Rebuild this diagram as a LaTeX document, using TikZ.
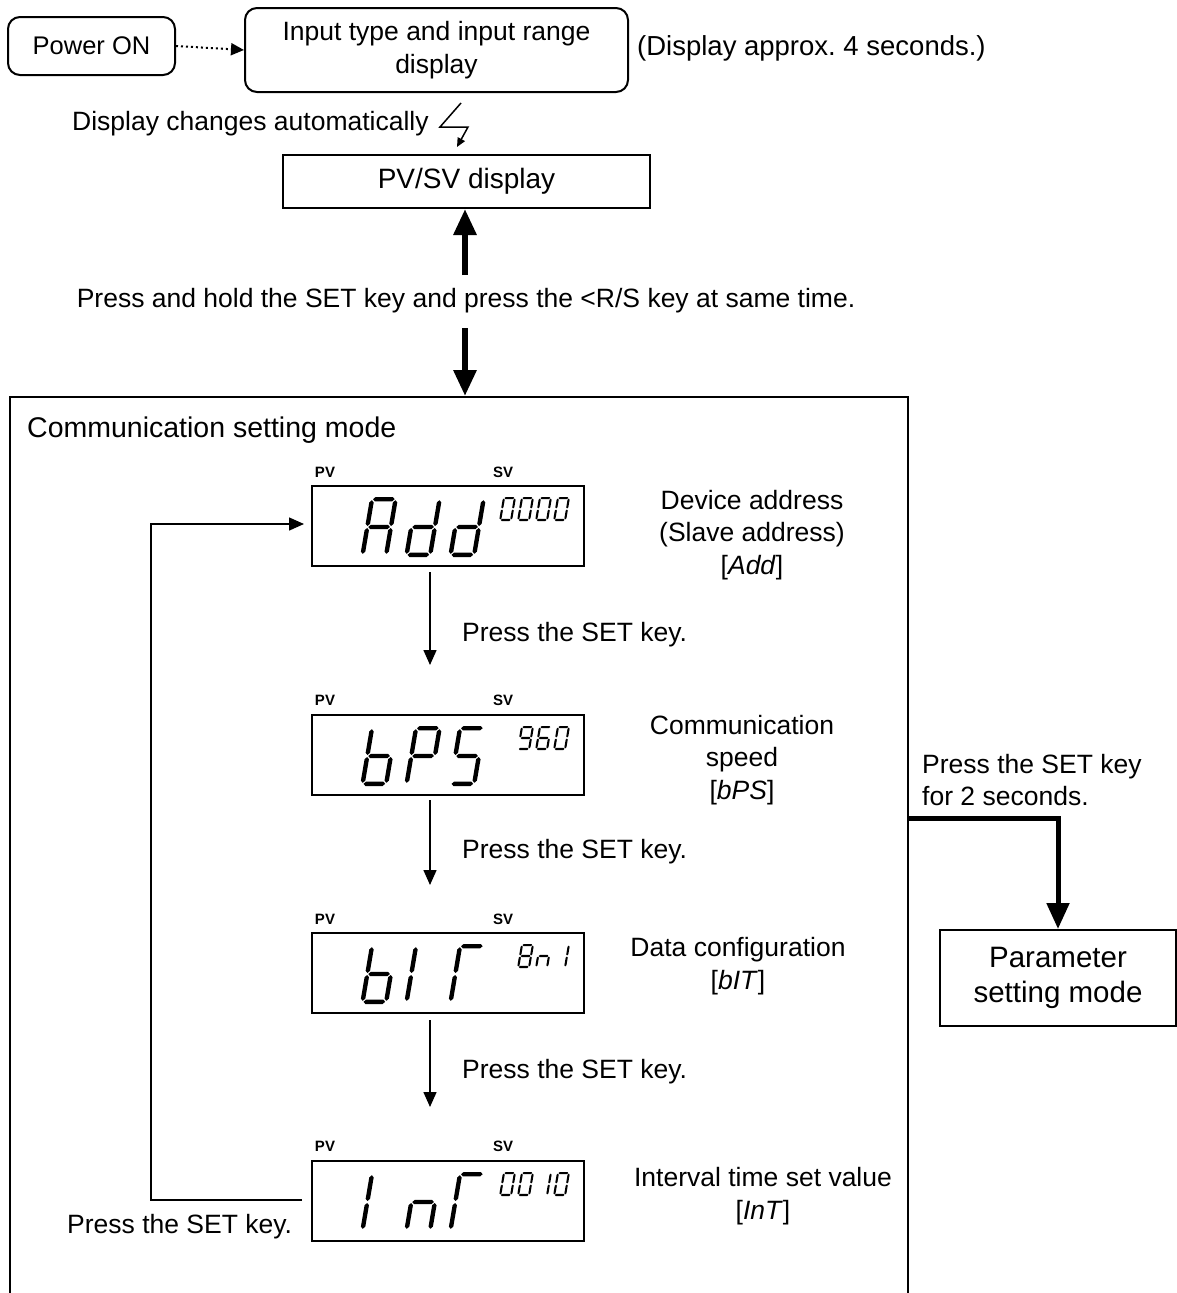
\documentclass[tikz,border=0pt]{standalone}
\usepackage{fontspec}
\setmainfont{Liberation Sans}
\usetikzlibrary{arrows.meta}
\frenchspacing

% ---- seven-segment glyphs -------------------------------------------------
\newcommand\lcdseghor[3]{\fill ({#1},{#3}) -- ({#1+\lcdthk/2},{#3+\lcdthk/2}) -- ({#2-\lcdthk/2},{#3+\lcdthk/2}) -- ({#2},{#3}) -- ({#2-\lcdthk/2},{#3-\lcdthk/2}) -- ({#1+\lcdthk/2},{#3-\lcdthk/2}) -- cycle;}
\newcommand\lcdsegver[3]{\fill ({#1},{#2}) -- ({#1+\lcdthk/2},{#2+\lcdthk/2}) -- ({#1+\lcdthk/2},{#3-\lcdthk/2}) -- ({#1},{#3}) -- ({#1-\lcdthk/2},{#3-\lcdthk/2}) -- ({#1-\lcdthk/2},{#2+\lcdthk/2}) -- cycle;}
\newcommand\lcda{\lcdseghor{\lcdthk/2+\lcdgap}{\lcdwd-\lcdthk/2-\lcdgap}{\lcdht-\lcdthk/2}}
\newcommand\lcdb{\lcdsegver{\lcdwd-\lcdthk/2}{\lcdht/2+\lcdgap}{\lcdht-\lcdthk/2-\lcdgap}}
\newcommand\lcdc{\lcdsegver{\lcdwd-\lcdthk/2}{\lcdthk/2+\lcdgap}{\lcdht/2-\lcdgap}}
\newcommand\lcdd{\lcdseghor{\lcdthk/2+\lcdgap}{\lcdwd-\lcdthk/2-\lcdgap}{\lcdthk/2}}
\newcommand\lcde{\lcdsegver{\lcdthk/2}{\lcdthk/2+\lcdgap}{\lcdht/2-\lcdgap}}
\newcommand\lcdf{\lcdsegver{\lcdthk/2}{\lcdht/2+\lcdgap}{\lcdht-\lcdthk/2-\lcdgap}}
\newcommand\lcdg{\lcdseghor{\lcdthk/2+\lcdgap}{\lcdwd-\lcdthk/2-\lcdgap}{\lcdht/2}}
\newcommand\lcdbig{\def\lcdwd{28}\def\lcdht{60}\def\lcdthk{4.4}\def\lcdgap{1}}
\newcommand\lcdsmall{\def\lcdwd{13}\def\lcdht{24}\def\lcdthk{2.1}\def\lcdgap{0.6}}
% #1 x of lower left corner, #2 y of baseline, #3 size, #4 lit segments
\newcommand\lcdchar[4]{\begin{scope}[shift={(#1,#2)},x=1pt,y=1pt,xslant=0.17]#3%
  \foreach \s in {#4}{\csname lcd\s\endcsname}\end{scope}}

\tikzset{
  txt/.style={font=\fontsize{26.5}{32.5}\selectfont, inner sep=0pt, align=center},
  pvsv/.style={font=\fontsize{15}{18}\selectfont\bfseries, inner sep=0pt},
  rbox/.style={draw, line width=2pt, rounded corners=12pt, txt},
  sbox/.style={draw, line width=2pt, txt},
  lcdbox/.style={draw, line width=2pt, minimum width=272pt, minimum height=80pt, inner sep=0pt},
  bigarrow/.style={line width=6pt, -{Triangle[length=26pt,width=22pt]}},
  thinarrow/.style={line width=1.5pt, -{Triangle[length=15pt,width=13pt]}},
}

\begin{document}
\begin{tikzpicture}[x=1pt,y=-1pt]
\path[use as bounding box] (0,0) rectangle (1177,1293);
\clip (0,0) rectangle (1177,1293);

% ---- start-up sequence ----
\node[rbox, minimum width=167pt, minimum height=58pt, font=\fontsize{25.5}{30}\selectfont] (pwr) at (91.5,46) {Power ON};
\node[rbox, minimum width=383pt, minimum height=84pt] (inp) at (436.5,50) {Input type and input range\\display};
\draw[line width=2pt, dash pattern=on 2pt off 3pt, -{Triangle[length=13pt,width=12pt]}] (pwr.east) -- (inp.west);
\node[txt, anchor=west, font=\fontsize{27.5}{33}\selectfont] (approx) at (637,48) {(Display approx. 4 seconds.)};
\node[txt, anchor=west] (auto) at (72,124) {Display changes automatically};
\coordinate (boltA) at (461,103);
\coordinate (boltB) at (440,127);
\coordinate (boltC) at (468,127);
\coordinate (boltD) at (457,147);
\draw[line width=1.5pt, -{Triangle[length=9pt,width=8pt]}] (boltA) -- (boltB) -- (boltC) -- (boltD);

\node[sbox, minimum width=367pt, minimum height=53pt, font=\fontsize{28}{33}\selectfont] (pvsvdisp) at (466.5,181.5) {PV/SV display};

\node[txt] (hold) at (466,301) {Press and hold the SET key and press the <R/S key at same time.};
\coordinate (upTail) at (465,275);
\coordinate (downTail) at (465,328);
\coordinate (downTip) at (465,396);
\draw[bigarrow] (upTail) -- (upTail |- pvsvdisp.south);
\draw[bigarrow] (downTail) -- (downTip);

% ---- communication setting mode frame (open at the bottom) ----
\coordinate (frameTL) at (10,397);
\coordinate (frameTR) at (908,397);
\draw[line width=2pt] (10,1310) -- (frameTL) -- (frameTR) -- (908,1310);
\node[txt, anchor=west, font=\fontsize{28.5}{33}\selectfont] (commmode) at (27,430) {Communication setting mode};

% ---- LCD panels ----
\node[lcdbox] (add) at (448,526) {};
\node[lcdbox] (bps) at (448,754.5) {};
\node[lcdbox] (bit) at (448,973) {};
\node[lcdbox] (int) at (448,1200.5) {};

\foreach \nm in {add,bps,bit,int}{
  \node[pvsv] (\nm pv) at ([xshift=-123pt,yshift=13pt]\nm.north) {PV};
  \node[pvsv] (\nm sv) at ([xshift=55pt,yshift=13pt]\nm.north) {SV};
}

% Add 0000
\lcdchar{360}{557}{\lcdbig}{a,b,c,e,f,g}
\lcdchar{404}{557}{\lcdbig}{b,c,d,e,g}
\lcdchar{448}{557}{\lcdbig}{b,c,d,e,g}
\lcdchar{499}{521}{\lcdsmall}{a,b,c,d,e,f}
\lcdchar{517}{521}{\lcdsmall}{a,b,c,d,e,f}
\lcdchar{535}{521}{\lcdsmall}{a,b,c,d,e,f}
\lcdchar{553}{521}{\lcdsmall}{a,b,c,d,e,f}
% bPS 960
\lcdchar{360}{786}{\lcdbig}{c,d,e,f,g}
\lcdchar{404}{786}{\lcdbig}{a,b,e,f,g}
\lcdchar{448}{786}{\lcdbig}{a,c,d,f,g}
\lcdchar{517}{750}{\lcdsmall}{a,b,c,d,f,g}
\lcdchar{535}{750}{\lcdsmall}{a,c,d,e,f,g}
\lcdchar{553}{750}{\lcdsmall}{a,b,c,d,e,f}
% bIT 8n 1
\lcdchar{360}{1004}{\lcdbig}{c,d,e,f,g}
\lcdchar{404}{1004}{\lcdbig}{e,f}
\lcdchar{448}{1004}{\lcdbig}{a,e,f}
\lcdchar{517}{968}{\lcdsmall}{a,b,c,d,e,f,g}
\lcdchar{535}{968}{\lcdsmall}{c,e,g}
\lcdchar{553}{968}{\lcdsmall}{b,c}
% InT 00 10
\lcdchar{360}{1232}{\lcdbig}{e,f}
\lcdchar{404}{1232}{\lcdbig}{c,e,g}
\lcdchar{448}{1232}{\lcdbig}{a,e,f}
\lcdchar{499}{1196}{\lcdsmall}{a,b,c,d,e,f}
\lcdchar{517}{1196}{\lcdsmall}{a,b,c,d,e,f}
\lcdchar{535}{1196}{\lcdsmall}{b,c}
\lcdchar{553}{1196}{\lcdsmall}{a,b,c,d,e,f}

% ---- parameter descriptions ----
\node[txt] (addtxt) at (752,535) {Device address\\(Slave address)\\{[}\textit{Add}{]}};
\node[txt] (bpstxt) at (742,760) {Communication\\speed\\{[}\textit{bPS}{]}};
\node[txt] (bittxt) at (738,966) {Data configuration\\{[}\textit{bIT}{]}};
\node[txt] (inttxt) at (763,1196) {Interval time set value\\{[}\textit{InT}{]}};

% ---- SET key steps ----
\coordinate (s1a) at (430,572);  \coordinate (s1b) at (430,665);
\coordinate (s2a) at (430,800);  \coordinate (s2b) at (430,885);
\coordinate (s3a) at (430,1020); \coordinate (s3b) at (430,1107);
\draw[thinarrow] (s1a) -- (s1b);
\draw[thinarrow] (s2a) -- (s2b);
\draw[thinarrow] (s3a) -- (s3b);
\node[txt, anchor=west] (set1) at (462,635) {Press the SET key.};
\node[txt, anchor=west] (set2) at (462,852) {Press the SET key.};
\node[txt, anchor=west] (set3) at (462,1072) {Press the SET key.};

% return loop
\coordinate (loopStart) at (302,1200);
\coordinate (loopTip) at (304,524);
\draw[thinarrow] (loopStart) -- (151,1200) -- (151,524) -- (loopTip);
\node[txt, anchor=west] (set4) at (67,1227) {Press the SET key.};

% ---- exit to parameter setting mode ----
\node[sbox, minimum width=236pt, minimum height=96pt, font=\fontsize{29.5}{35}\selectfont] (param) at (1058,978) {Parameter\\setting mode};
\node[txt, anchor=west, align=left] (hold2) at (922,780) {Press the SET key\\for 2 seconds.};
\coordinate (exitStart) at (908,818);
\draw[line width=5pt, -{Triangle[length=26pt,width=22pt]}] (exitStart) -- (exitStart -| param.north) -- (param.north);
\end{tikzpicture}
\end{document}
